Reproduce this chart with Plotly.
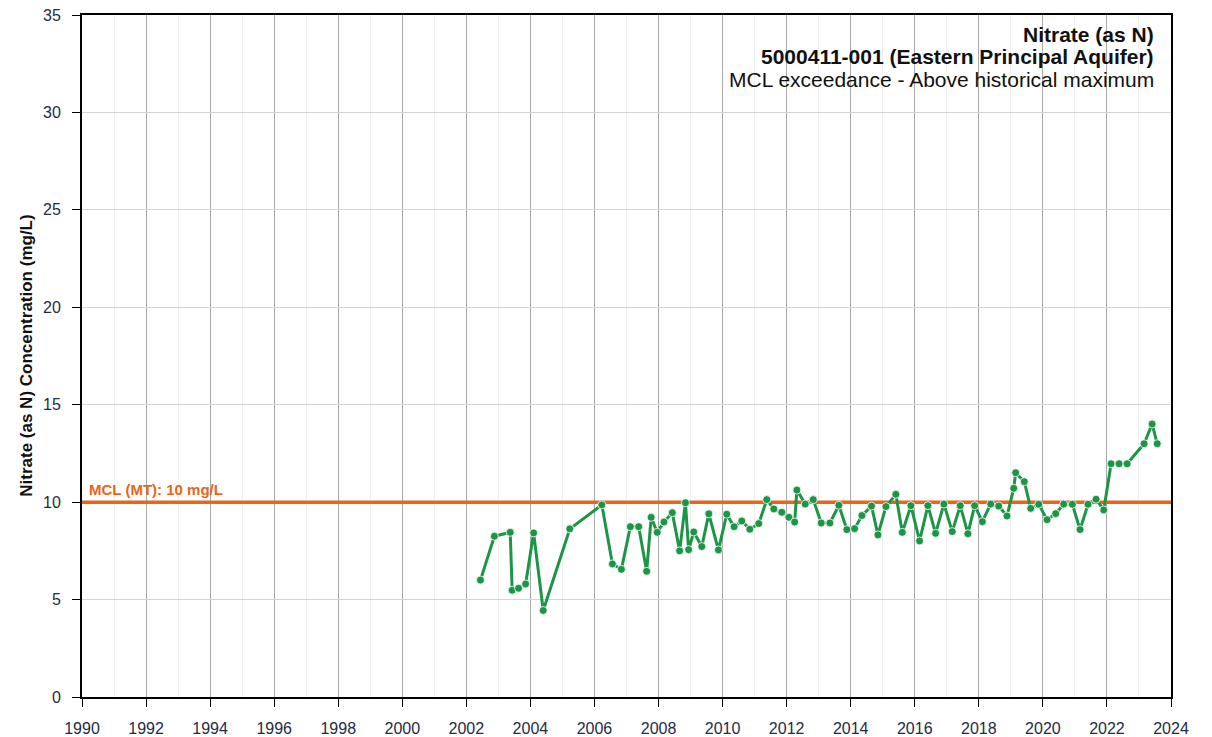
import plotly.graph_objects as go

# Sample dates (decimal years) and nitrate (as N) concentrations (mg/L)
sample_years = [
    2002.44, 2002.875, 2003.37, 2003.43, 2003.63, 2003.85, 2004.10, 2004.40,
    2005.23, 2006.23, 2006.56, 2006.84, 2007.12, 2007.38, 2007.63, 2007.77,
    2007.96, 2008.17, 2008.43, 2008.66, 2008.84, 2008.94, 2009.10, 2009.35,
    2009.57, 2009.87, 2010.13, 2010.36, 2010.60, 2010.85, 2011.13, 2011.38,
    2011.60, 2011.85, 2012.07, 2012.25, 2012.32, 2012.58, 2012.83, 2013.08,
    2013.35, 2013.63, 2013.88, 2014.12, 2014.35, 2014.65, 2014.85, 2015.10,
    2015.41, 2015.61, 2015.88, 2016.15, 2016.41, 2016.65, 2016.91, 2017.17,
    2017.42, 2017.66, 2017.87, 2018.11, 2018.37, 2018.62, 2018.88, 2019.09,
    2019.15, 2019.42, 2019.62, 2019.87, 2020.13, 2020.40, 2020.65, 2020.92,
    2021.16, 2021.41, 2021.66, 2021.90, 2022.13, 2022.38, 2022.63, 2023.16,
    2023.41, 2023.57,
]
nitrate = [
    6.0, 8.25, 8.45, 5.48, 5.58, 5.8, 8.42, 4.44,
    8.63, 9.86, 6.83, 6.55, 8.74, 8.74, 6.45, 9.22,
    8.45, 8.98, 9.46, 7.5, 9.97, 7.56, 8.47, 7.72,
    9.4, 7.55, 9.38, 8.74, 9.03, 8.61, 8.9, 10.13,
    9.65, 9.48, 9.22, 8.98, 10.62, 9.9, 10.13, 8.93,
    8.93, 9.84, 8.59, 8.64, 9.31, 9.8, 8.32, 9.77,
    10.4, 8.45, 9.82, 8.01, 9.82, 8.4, 9.9, 8.49,
    9.82, 8.38, 9.82, 9.0, 9.9, 9.8, 9.29, 10.71,
    11.51, 11.05, 9.68, 9.89, 9.1, 9.41, 9.9, 9.89,
    8.59, 9.89, 10.15, 9.6, 11.97, 11.97, 11.97, 13.0,
    14.01, 13.0,
]

mcl_value = 10
x_range = [1990, 2024]
y_range = [0, 35]
x_ticks = list(range(1990, 2025, 2))
y_ticks = list(range(0, 36, 5))

title_lines = [
    "Nitrate (as N)",
    "5000411-001 (Eastern Principal Aquifer)",
    "MCL exceedance - Above historical maximum",
]
y_title = "Nitrate (as N) Concentration (mg/L)"
mcl_label = "MCL (MT): 10 mg/L"

GREEN = "#1c9646"
ORANGE = "#e8651a"
TICK_COLOR = "#1f2b48"
FONT = "Liberation Sans, Arial, sans-serif"

fig = go.Figure()

fig.add_trace(go.Scatter(
    x=x_range, y=[mcl_value, mcl_value], mode="lines",
    line=dict(color=ORANGE, width=3.5), hoverinfo="skip", showlegend=False,
    cliponaxis=False,
))

fig.add_trace(go.Scatter(
    x=sample_years, y=nitrate, mode="lines+markers",
    line=dict(color=GREEN, width=3),
    marker=dict(color=GREEN, size=8, line=dict(color="white", width=0.8)),
    showlegend=False,
))

# plot area in the page: x 82..1171, y 15..697.5
fig.update_layout(
    width=1212, height=737,
    margin=dict(l=82, r=41, t=15, b=39.5, autoexpand=False),
    paper_bgcolor="white", plot_bgcolor="white",
    font=dict(family=FONT, color=TICK_COLOR),
    xaxis=dict(
        range=x_range, tickmode="array", tickvals=x_ticks,
        ticks="outside", ticklen=8, tickcolor="black", tickwidth=1.2,
        ticklabelstandoff=8,
        showline=True, linecolor="black", linewidth=1.5, mirror=True,
        showgrid=True, gridcolor="#a8a8a8", gridwidth=1,
        minor=dict(dtick=1, tick0=1990, showgrid=True, gridcolor="#f0f0f0", gridwidth=1),
        tickfont=dict(size=16, color=TICK_COLOR, family=FONT),
        zeroline=False, automargin=False,
    ),
    yaxis=dict(
        range=y_range, tickmode="array", tickvals=y_ticks,
        ticks="outside", ticklen=8, tickcolor="black", tickwidth=1.2,
        ticklabelstandoff=8,
        showline=True, linecolor="black", linewidth=2, mirror=True,
        showgrid=True, gridcolor="#d6d6d6", gridwidth=1,
        tickfont=dict(size=16, color=TICK_COLOR, family=FONT),
        zeroline=False, automargin=False,
    ),
)

title_y = [35, 57, 80]
for i, (txt, yp) in enumerate(zip(title_lines, title_y)):
    fig.add_annotation(
        xref="paper", yref="paper",
        x=(1156 - 82) / 1089, y=1 - (yp - 15) / 682.5,
        xanchor="right", yanchor="middle", showarrow=False,
        text=f"<b>{txt}</b>" if i < 2 else txt,
        font=dict(size=21, color="#111111", family=FONT),
    )

fig.add_annotation(
    xref="paper", yref="paper",
    x=(27 - 82) / 1089, y=(697.5 - 356) / 682.5, xanchor="center", yanchor="middle",
    textangle=-90, showarrow=False, text=f"<b>{y_title}</b>",
    font=dict(size=17, color="#111111", family=FONT),
)

fig.add_annotation(
    xref="x", yref="y", x=x_range[0], y=mcl_value,
    xshift=5, yshift=2, xanchor="left", yanchor="bottom", showarrow=False,
    text=f"<b>{mcl_label}</b>",
    font=dict(size=15, color=ORANGE, family=FONT),
)

fig.write_html(
    "out.html",
    config={"displayModeBar": False},
    post_script="document.body.style.margin='0';",
)
